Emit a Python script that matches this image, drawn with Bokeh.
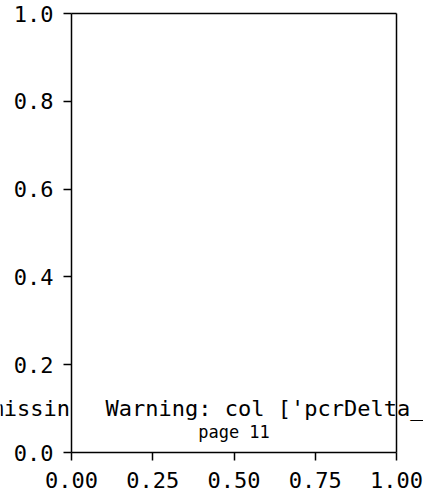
from bokeh.plotting import figure
from bokeh.models import Range1d, FixedTicker, Label, LinearAxis
from bokeh.embed import file_html
from bokeh.resources import INLINE

# ---- data ----
x_ticks = [0.0, 0.25, 0.5, 0.75, 1.0]
x_tick_labels = ["0.00", "0.25", "0.50", "0.75", "1.00"]
y_ticks = [0.0, 0.2, 0.4, 0.6, 0.8, 1.0]
y_tick_labels = ["0.0", "0.2", "0.4", "0.6", "0.8", "1.0"]
warning_left = "missin"
warning_text = "Warning: col ['pcrDelta_"
page_text = "page 11"

FONT = "DejaVu Sans Mono"

W, H = 423, 493
FL, FR, FT, FB = 71, 396, 13, 452   # frame (axes box) pixel edges
sx = FR - FL
sy = FB - FT

p = figure(width=W, height=H, output_backend="svg", toolbar_location=None,
           x_range=Range1d(-FL / sx, (W - FL) / sx),
           y_range=Range1d(-(H - FB) / sy, 1 + FT / sy),
           min_border=0)
p.background_fill_color = "white"
p.border_fill_color = "white"
p.outline_line_color = None
p.grid.visible = False

def style(ax, ticks, labels):
    ax.ticker = FixedTicker(ticks=ticks)
    ax.major_label_overrides = {t: l for t, l in zip(ticks, labels)}
    ax.minor_tick_line_color = None
    ax.major_tick_out = 8
    ax.major_tick_in = 0
    ax.major_tick_line_width = 1.5
    ax.axis_line_width = 1.5
    ax.axis_line_color = "black"
    ax.major_tick_line_color = "black"
    ax.major_label_text_font = FONT
    ax.major_label_text_font_size = "22px"
    ax.major_label_text_color = "black"
    ax.bounds = (0, 1)
    ax.fixed_location = 0

style(p.xaxis[0], x_ticks, x_tick_labels)
style(p.yaxis[0], y_ticks, y_tick_labels)
p.xaxis.major_label_standoff = 11
p.yaxis.major_label_standoff = 10

# top and right spines
for side in ("right", "above"):
    sp = LinearAxis(fixed_location=1, ticker=FixedTicker(ticks=[]), bounds=(0, 1),
                    axis_line_width=1.5, axis_line_color="black",
                    major_label_text_font_size="0px", minor_tick_line_color=None,
                    major_tick_line_color=None)
    p.add_layout(sp, side)

p.add_layout(Label(x=-0.0046, y=0.1002, text=warning_left, text_align="right",
                   text_baseline="alphabetic", text_font=FONT, text_font_size="22px",
                   text_color="black"))
p.add_layout(Label(x=0.1046, y=0.1002, text=warning_text, text_align="left",
                   text_baseline="alphabetic", text_font=FONT, text_font_size="22px",
                   text_color="black"))
p.add_layout(Label(x=0.5, y=0.0456, text=page_text, text_align="center",
                   text_baseline="alphabetic", text_font=FONT, text_font_size="17px",
                   text_color="black"))

open("out.html", "w").write(file_html(p, INLINE))
